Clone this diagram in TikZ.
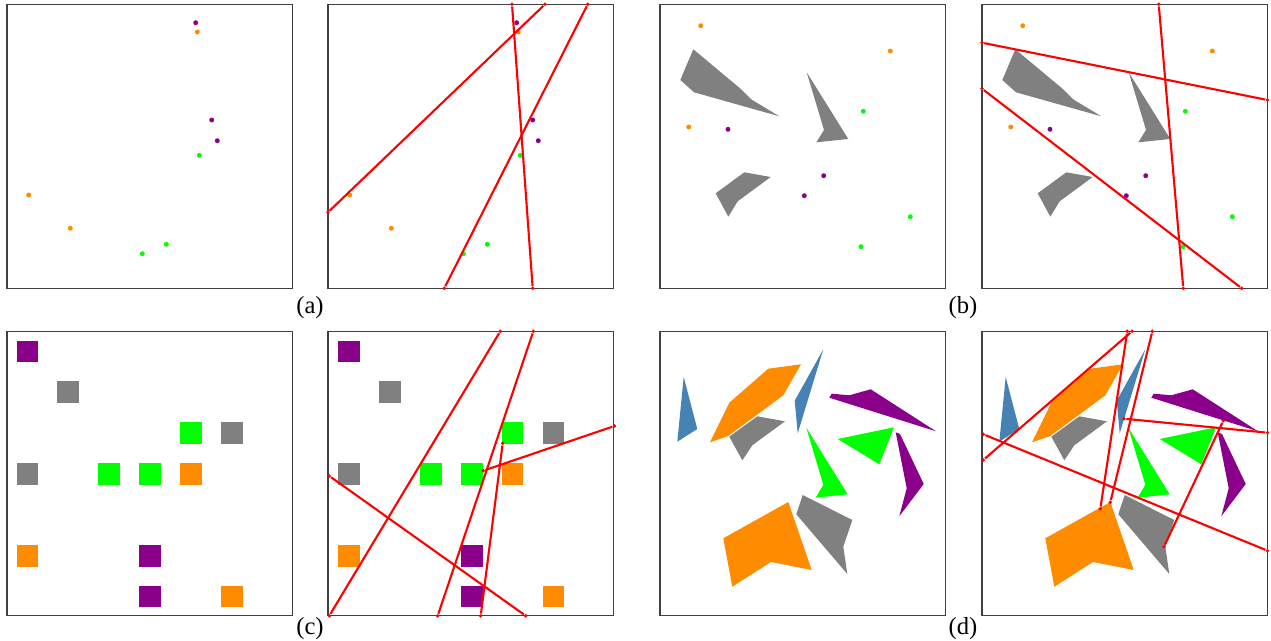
\documentclass[tikz,border=0pt]{standalone}
\usepackage{fontspec}
\setmainfont{Liberation Serif}
\usetikzlibrary{positioning}

\definecolor{purp}{RGB}{139,0,139}
\definecolor{orng}{RGB}{255,140,0}
\definecolor{grn}{RGB}{0,255,0}
\definecolor{gry}{RGB}{128,128,128}
\definecolor{steel}{RGB}{70,130,180}

\begin{document}
\begin{tikzpicture}[x=0.02cm,y=-0.02cm,
    frame/.style={draw=black!75,line width=0.6pt},
    pt/.style={circle,inner sep=0pt,minimum size=2.8pt},
    sq/.style={rectangle,inner sep=0pt,minimum size=12.2pt},
    tip/.style={circle,fill=red,inner sep=0pt,minimum size=2.2pt},
    cut/.style={red,line width=1.2pt},
    lbl/.style={font=\fontsize{14}{16}\selectfont}]
    \useasboundingbox (0,0) rectangle (1271,641);

    \foreach \px in {7,328,660,982}
        \foreach \py in {4.3,331.3}
            \draw[frame] (\px,\py) rectangle ++(285.5,284.5);

    \foreach \dx in {0,321} {
        \node[pt,fill=purp] (a1) at (\dx+195.7,22.7) {};
        \node[pt,fill=orng] (a2) at (\dx+197.3,32) {};
        \node[pt,fill=purp] (a3) at (\dx+211.7,120) {};
        \node[pt,fill=purp] (a4) at (\dx+217.3,140.7) {};
        \node[pt,fill=grn]  (a5) at (\dx+199.3,155.3) {};
        \node[pt,fill=orng] (a6) at (\dx+28.7,195) {};
        \node[pt,fill=orng] (a7) at (\dx+70.3,228.3) {};
        \node[pt,fill=grn]  (a8) at (\dx+166.3,244.3) {};
        \node[pt,fill=grn]  (a9) at (\dx+142.3,253.7) {};
    }

    \foreach \dx in {0,322} {
        \begin{scope}[shift={(\dx,0)}]
            \fill[gry] (693.3,49.3) -- (740,88.3) -- (751.7,99.7) -- (779.3,116.3)
                -- (694,92.3) -- (680.3,80) -- cycle;
            \fill[gry] (806.7,72.3) -- (848.3,139) -- (816.3,142.3) -- (824,130) -- cycle;
            \fill[gry] (744.3,172.3) -- (770.7,177) -- (737.7,201.3) -- (728.3,216.7)
                -- (715.7,193.3) -- cycle;
        \end{scope}
        \node[pt,fill=orng] (b1) at (\dx+700.7,25.7) {};
        \node[pt,fill=orng] (b2) at (\dx+890.3,51) {};
        \node[pt,fill=grn]  (b3) at (\dx+863.3,111.3) {};
        \node[pt,fill=orng] (b4) at (\dx+688.7,127) {};
        \node[pt,fill=purp] (b5) at (\dx+728,129.3) {};
        \node[pt,fill=purp] (b6) at (\dx+823.7,175.7) {};
        \node[pt,fill=purp] (b7) at (\dx+804.3,195.7) {};
        \node[pt,fill=grn]  (b8) at (\dx+910.3,216.7) {};
        \node[pt,fill=grn]  (b9) at (\dx+861,246.7) {};
    }

    \foreach \dx in {0,321.8}
        \foreach \c/\r/\col in {0/0/purp,1/1/gry,4/2/grn,5/2/gry,0/3/gry,2/3/grn,3/3/grn,
            4/3/orng,0/5/orng,3/5/purp,3/6/purp,5/6/orng}
            \node[sq,fill=\col] (s-\c-\r) at (\dx+27.3+40.9*\c,351.3+40.9*\r) {};

    \foreach \dx in {0,322} {
        \begin{scope}[shift={(\dx,0)}]
            \fill[steel] (683.7,377) -- (697.3,429) -- (677.3,441.7) -- cycle;
            \fill[orng] (768.3,368.7) -- (801,364.3) -- (783.3,395.3) -- (728.3,436)
                -- (710,442.3) -- (729.3,402.7) -- cycle;
            \fill[gry] (757.3,416.3) -- (785,421.3) -- (752.3,445.3) -- (742.3,460.3)
                -- (729.3,436.7) -- cycle;
            \fill[steel] (823.3,349.3) -- (797.7,433.3) -- (794.7,400.7) -- cycle;
            \fill[purp] (829.3,397.7) -- (831.7,393.7) -- (849.3,395.3) -- (870.7,389.3)
                -- (936,431.3) -- cycle;
            \fill[grn] (806.3,427.7) -- (847.7,494.3) -- (815.7,497.7) -- (823.3,484.7) -- cycle;
            \fill[grn] (837.7,439) -- (894,427.3) -- (879.3,464.3) -- cycle;
            \fill[purp] (895.7,432.3) -- (900,434) -- (923.7,484) -- (899.3,516.3)
                -- (906.7,488.3) -- cycle;
            \fill[orng] (723.3,538.3) -- (788.3,502) -- (811.7,570) -- (771,562)
                -- (732.3,586.7) -- cycle;
            \fill[gry] (802.7,495) -- (852.3,520) -- (843.3,546.7) -- (847.3,574)
                -- (796.3,514.3) -- cycle;
        \end{scope}
    }

    \node[tip] (p1) at (328,212.3) {};
    \node[tip] (p2) at (545,4.3) {};
    \node[tip] (p3) at (512,4.3) {};
    \node[tip] (p4) at (532.7,288.3) {};
    \node[tip] (p5) at (444.3,288.3) {};
    \node[tip] (p6) at (587.7,4.3) {};
    \draw[cut] (p1) -- (p2);
    \draw[cut] (p3) -- (p4);
    \draw[cut] (p5) -- (p6);

    \node[tip] (q1) at (982,42.7) {};
    \node[tip] (q2) at (1267.5,100) {};
    \node[tip] (q3) at (1158.7,4.3) {};
    \node[tip] (q4) at (1183.3,288.3) {};
    \node[tip] (q5) at (982,88.7) {};
    \node[tip] (q6) at (1241.7,288.3) {};
    \draw[cut] (q1) -- (q2);
    \draw[cut] (q3) -- (q4);
    \draw[cut] (q5) -- (q6);

    \node[tip] (r1) at (329.3,615.8) {};
    \node[tip] (r2) at (500.3,331.3) {};
    \node[tip] (r3) at (437.7,615.8) {};
    \node[tip] (r4) at (533.3,331.3) {};
    \node[tip] (r5) at (329.3,476) {};
    \node[tip] (r6) at (525.7,615.8) {};
    \node[tip] (r7) at (483.3,470.7) {};
    \node[tip] (r8) at (614.5,426) {};
    \node[tip] (r9) at (502.7,443.3) {};
    \node[tip] (r10) at (480.7,615.8) {};
    \draw[cut] (r1) -- (r2);
    \draw[cut] (r3) -- (r4);
    \draw[cut] (r5) -- (r6);
    \draw[cut] (r7) -- (r8);
    \draw[cut] (r9) -- (r10);

    \node[tip] (u1) at (983.3,460) {};
    \node[tip] (u2) at (1132,331.3) {};
    \node[tip] (u3) at (983.3,434.3) {};
    \node[tip] (u4) at (1267.5,550.7) {};
    \node[tip] (u5) at (1100.3,508.7) {};
    \node[tip] (u6) at (1127.3,331.3) {};
    \node[tip] (u7) at (1110.3,502.3) {};
    \node[tip] (u8) at (1152.3,331.3) {};
    \node[tip] (u9) at (1124,418.7) {};
    \node[tip] (u10) at (1267.5,432.7) {};
    \node[tip] (u11) at (1164,546.7) {};
    \node[tip] (u12) at (1223.3,420.7) {};
    \draw[cut] (u1) -- (u2);
    \draw[cut] (u3) -- (u4);
    \draw[cut] (u5) -- (u6);
    \draw[cut] (u7) -- (u8);
    \draw[cut] (u9) -- (u10);
    \draw[cut] (u11) -- (u12);

    \node[lbl] (la) at (310,308) {(a)};
    \node[lbl] (lb) at (963,308) {(b)};
    \node[lbl] (lc) at (310,629) {(c)};
    \node[lbl] (ld) at (963,629) {(d)};
\end{tikzpicture}
\end{document}
